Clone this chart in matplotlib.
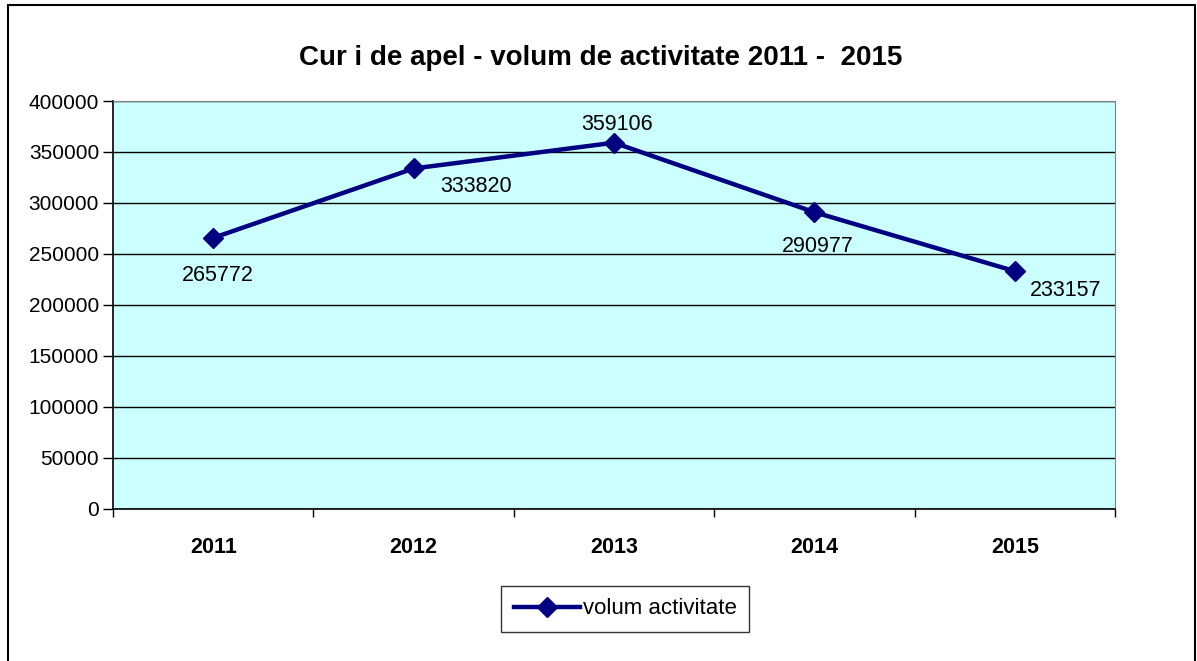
import matplotlib
matplotlib.use('Agg')
import matplotlib.pyplot as plt
from matplotlib.patches import Rectangle

years = ['2011', '2012', '2013', '2014', '2015']
volum = [265772, 333820, 359106, 290977, 233157]
# label offsets in pixels (dx, dy), dy positive = up
label_offsets = [(5, -38), (62, -18), (3, 18), (3, -34), (51, -19)]

plt.rcParams['font.family'] = ['Liberation Sans', 'DejaVu Sans']

fig = plt.figure(figsize=(11.97, 6.61), dpi=100)
ax = fig.add_axes([0.0944, 0.2300, 0.8371, 0.6172])

# outer chart border
fig.patches.append(Rectangle((0.0067, -0.05), 0.9913, 1.0424, transform=fig.transFigure,
                             fill=False, edgecolor='black', linewidth=1.5))

ax.set_facecolor('#CCFFFF')
x = list(range(len(years)))
ax.plot(x, volum, color='#000080', linewidth=3.2, marker='D', markersize=10,
        label='volum activitate', zorder=3)

for xi, v, (dx, dy) in zip(x, volum, label_offsets):
    ax.annotate(str(v), (xi, v), xytext=(dx * 0.72, dy * 0.72), textcoords='offset points',
                ha='center', va='center', fontsize=15.5, color='black')

ax.set_xlim(-0.5, len(years) - 0.5)
ax.set_ylim(0, 400000)
ax.set_yticks(range(0, 400001, 50000))
ax.set_yticklabels([str(v) for v in range(0, 400001, 50000)], fontsize=15)
ax.yaxis.grid(True, color='black', linewidth=1)
ax.set_axisbelow(True)

ax.set_xticks([i - 0.5 for i in range(len(years) + 1)])
ax.set_xticklabels([])
ax.set_xticks(x, minor=True)
ax.set_xticklabels(years, minor=True, fontsize=15.5, fontweight='bold')
ax.tick_params(axis='x', which='minor', length=0, pad=20)
ax.tick_params(axis='x', which='major', length=6, direction='out', width=1)
ax.tick_params(axis='y', length=7, direction='out', width=1, pad=3)

for s in ['top', 'right']:
    ax.spines[s].set_color('#808080')
for s in ['left', 'bottom']:
    ax.spines[s].set_color('black')
    ax.spines[s].set_linewidth(1.2)

fig.text(601 / 1197, 1 - 58 / 661, 'Cur i de apel - volum de activitate 2011 -  2015',
         fontsize=20, fontweight='bold', ha='center', va='center')

leg = fig.legend(loc='center', bbox_to_anchor=(625 / 1197, 1 - 609 / 661), fontsize=16,
                 frameon=True, fancybox=False, edgecolor='black', handlelength=3,
                 handletextpad=0.1, borderpad=0.55, borderaxespad=0)
leg.get_frame().set_linewidth(1)

fig.savefig('out.png', dpi=100)
